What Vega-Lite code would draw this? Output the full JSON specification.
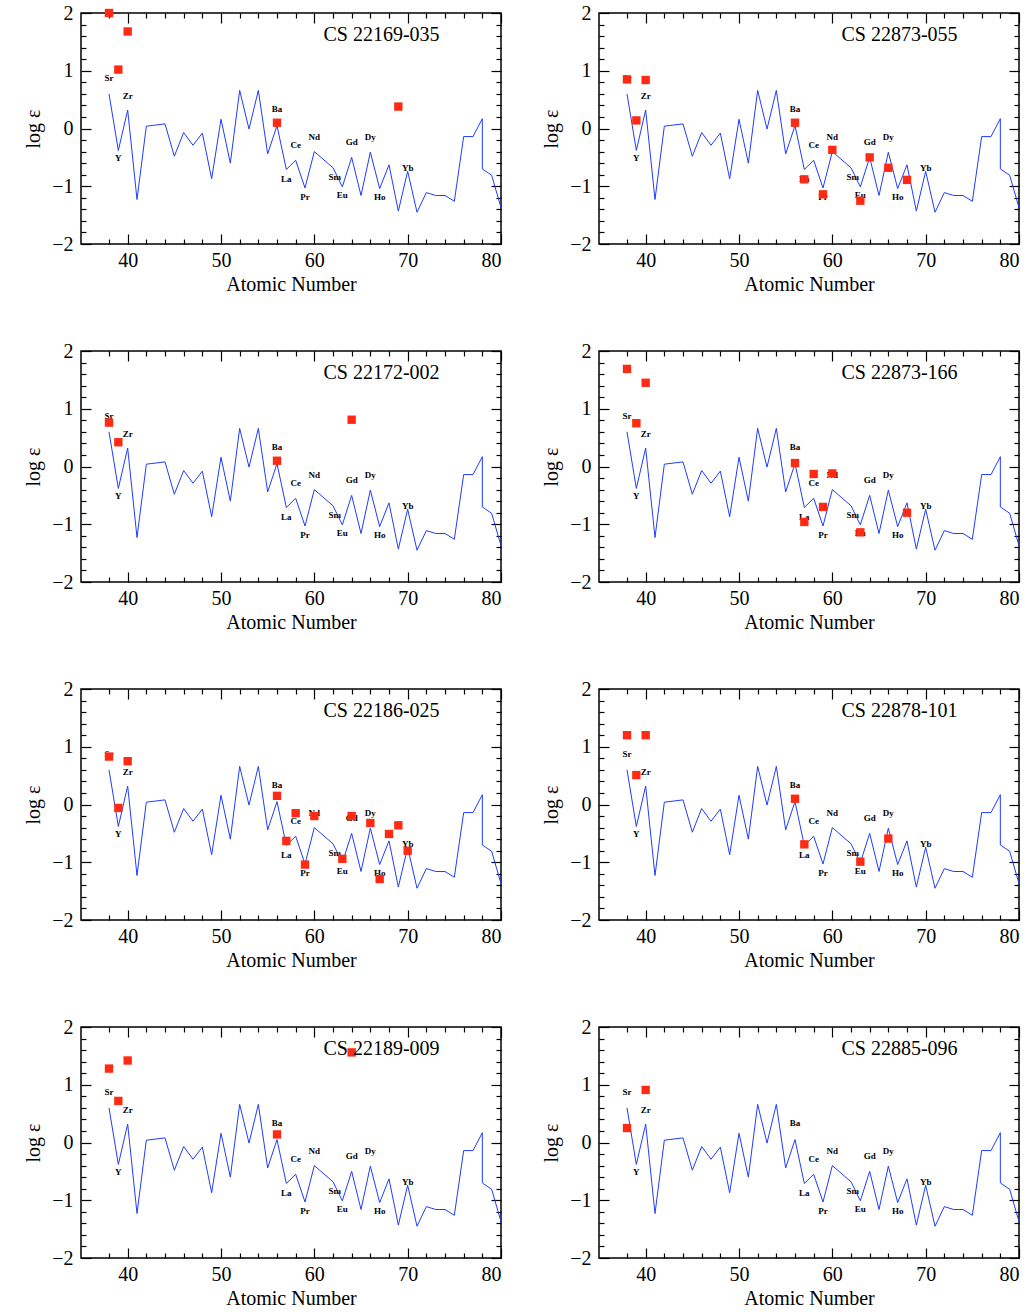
{
  "$schema": "https://vega.github.io/schema/vega-lite/v6.json",
  "padding": {"left": 22, "top": 2, "right": 4, "bottom": 0},
  "background": "white",
  "datasets": {
    "solar": [
      {"i":1,"z":38,"v":0.60},{"i":2,"z":39,"v":-0.38},{"i":3,"z":40,"v":0.32},{"i":4,"z":41,"v":-1.23},
      {"i":5,"z":42,"v":0.04},{"i":6,"z":44,"v":0.08},{"i":7,"z":45,"v":-0.48},{"i":8,"z":46,"v":-0.07},
      {"i":9,"z":47,"v":-0.29},{"i":10,"z":48,"v":-0.08},{"i":11,"z":49,"v":-0.87},{"i":12,"z":50,"v":0.16},
      {"i":13,"z":51,"v":-0.60},{"i":14,"z":52,"v":0.66},{"i":15,"z":53,"v":-0.01},{"i":16,"z":54,"v":0.66},
      {"i":17,"z":55,"v":-0.44},{"i":18,"z":56,"v":0.05},{"i":19,"z":57,"v":-0.71},{"i":20,"z":58,"v":-0.55},
      {"i":21,"z":59,"v":-1.03},{"i":22,"z":60,"v":-0.40},{"i":23,"z":62,"v":-0.68},{"i":24,"z":63,"v":-1.01},
      {"i":25,"z":64,"v":-0.50},{"i":26,"z":65,"v":-1.16},{"i":27,"z":66,"v":-0.41},{"i":28,"z":67,"v":-1.04},
      {"i":29,"z":68,"v":-0.63},{"i":30,"z":69,"v":-1.43},{"i":31,"z":70,"v":-0.74},{"i":32,"z":71,"v":-1.45},
      {"i":33,"z":72,"v":-1.11},{"i":34,"z":73,"v":-1.16},{"i":35,"z":74,"v":-1.16},{"i":36,"z":75,"v":-1.26},
      {"i":37,"z":76,"v":-0.14},{"i":38,"z":77,"v":-0.14},{"i":39,"z":78,"v":0.17},{"i":40,"z":78,"v":-0.70},
      {"i":41,"z":79,"v":-0.81},{"i":42,"z":80,"v":-1.37}
    ],
    "labels": [
      {"el":"Sr","z":38,"v":0.87},{"el":"Y","z":39,"v":-0.51},{"el":"Zr","z":40,"v":0.56},
      {"el":"Ba","z":56,"v":0.34},{"el":"La","z":57,"v":-0.87},{"el":"Ce","z":58,"v":-0.29},
      {"el":"Pr","z":59,"v":-1.19},{"el":"Nd","z":60,"v":-0.15},{"el":"Sm","z":62.2,"v":-0.84},
      {"el":"Eu","z":63,"v":-1.15},{"el":"Gd","z":64,"v":-0.23},{"el":"Dy","z":66,"v":-0.15},
      {"el":"Ho","z":67,"v":-1.19},{"el":"Yb","z":70,"v":-0.68}
    ],
    "stars": [
      {"star":"CS 22169-035","z":38,"v":2.0},{"star":"CS 22169-035","z":39,"v":1.02},{"star":"CS 22169-035","z":40,"v":1.68},
      {"star":"CS 22169-035","z":56,"v":0.1},{"star":"CS 22169-035","z":69,"v":0.38},
      {"star":"CS 22873-055","z":38,"v":0.85},{"star":"CS 22873-055","z":39,"v":0.14},{"star":"CS 22873-055","z":40,"v":0.84},
      {"star":"CS 22873-055","z":56,"v":0.1},{"star":"CS 22873-055","z":57,"v":-0.88},{"star":"CS 22873-055","z":59,"v":-1.14},
      {"star":"CS 22873-055","z":60,"v":-0.37},{"star":"CS 22873-055","z":63,"v":-1.25},{"star":"CS 22873-055","z":64,"v":-0.5},
      {"star":"CS 22873-055","z":66,"v":-0.68},{"star":"CS 22873-055","z":68,"v":-0.89},
      {"star":"CS 22172-002","z":38,"v":0.76},{"star":"CS 22172-002","z":39,"v":0.42},{"star":"CS 22172-002","z":56,"v":0.1},
      {"star":"CS 22172-002","z":64,"v":0.81},
      {"star":"CS 22873-166","z":38,"v":1.69},{"star":"CS 22873-166","z":39,"v":0.75},{"star":"CS 22873-166","z":40,"v":1.45},
      {"star":"CS 22873-166","z":56,"v":0.06},{"star":"CS 22873-166","z":57,"v":-0.96},{"star":"CS 22873-166","z":58,"v":-0.13},
      {"star":"CS 22873-166","z":59,"v":-0.7},{"star":"CS 22873-166","z":60,"v":-0.12},{"star":"CS 22873-166","z":63,"v":-1.14},
      {"star":"CS 22873-166","z":68,"v":-0.8},
      {"star":"CS 22186-025","z":38,"v":0.83},{"star":"CS 22186-025","z":39,"v":-0.06},{"star":"CS 22186-025","z":40,"v":0.75},
      {"star":"CS 22186-025","z":56,"v":0.15},{"star":"CS 22186-025","z":57,"v":-0.63},{"star":"CS 22186-025","z":58,"v":-0.15},
      {"star":"CS 22186-025","z":59,"v":-1.04},{"star":"CS 22186-025","z":60,"v":-0.2},{"star":"CS 22186-025","z":63,"v":-0.94},
      {"star":"CS 22186-025","z":64,"v":-0.2},{"star":"CS 22186-025","z":66,"v":-0.32},{"star":"CS 22186-025","z":67,"v":-1.29},
      {"star":"CS 22186-025","z":68,"v":-0.51},{"star":"CS 22186-025","z":69,"v":-0.36},{"star":"CS 22186-025","z":70,"v":-0.8},
      {"star":"CS 22878-101","z":38,"v":1.2},{"star":"CS 22878-101","z":39,"v":0.51},{"star":"CS 22878-101","z":40,"v":1.2},
      {"star":"CS 22878-101","z":56,"v":0.1},{"star":"CS 22878-101","z":57,"v":-0.69},{"star":"CS 22878-101","z":63,"v":-0.99},
      {"star":"CS 22878-101","z":66,"v":-0.59},
      {"star":"CS 22189-009","z":38,"v":1.28},{"star":"CS 22189-009","z":39,"v":0.72},{"star":"CS 22189-009","z":40,"v":1.42},
      {"star":"CS 22189-009","z":56,"v":0.14},{"star":"CS 22189-009","z":64,"v":1.56},
      {"star":"CS 22885-096","z":38,"v":0.25},{"star":"CS 22885-096","z":40,"v":0.91}
    ]
  },
  "columns": 2,
  "spacing": {"row": 45, "column": 36},
  "concat": [
    {"width":420,"height":231,"resolve":{"axis":{"x":"independent","y":"independent"}},"layer":[
      {"data":{"name":"solar"},"mark":{"type":"line","color":"#1f3cff","strokeWidth":1},"encoding":{
        "x":{"field":"z","type":"quantitative","scale":{"domain":[37,80]},"axis":{"orient":"bottom","title":"Atomic Number","values":[40,50,60,70,80],"offset":-10,"tickSize":10}},
        "y":{"field":"v","type":"quantitative","scale":{"domain":[-2,2]},"axis":{"orient":"left","title":"log ε","values":[-2,-1,0,1,2],"offset":-10,"tickSize":10}},
        "order":{"field":"i"}}},
      {"data":{"name":"labels"},"mark":{"type":"text","fontSize":9,"fontWeight":"bold","font":"Liberation Serif"},"encoding":{
        "x":{"field":"z","type":"quantitative","axis":{"orient":"top","title":null,"labels":false,"values":[40,50,60,70,80],"offset":-10,"tickSize":10}},
        "y":{"field":"v","type":"quantitative","axis":{"orient":"right","title":null,"labels":false,"values":[-2,-1,0,1,2],"offset":-10,"tickSize":10}},
        "text":{"field":"el"}}},
      {"data":{"name":"stars"},"transform":[{"filter":"datum.star == 'CS 22169-035'"}],"mark":{"type":"square","color":"#ff2a14","opacity":1,"size":70},"encoding":{
        "x":{"field":"z","type":"quantitative","axis":{"orient":"bottom","title":null,"labels":false,"offset":-5,"tickSize":5,"values":[38,42,44,46,48,52,54,56,58,62,64,66,68,72,74,76,78]}},
        "y":{"field":"v","type":"quantitative","axis":{"orient":"left","title":null,"labels":false,"offset":-5,"tickSize":5,"values":[-1.8,-1.6,-1.4,-1.2,-0.8,-0.6,-0.4,-0.2,0.2,0.4,0.6,0.8,1.2,1.4,1.6,1.8]}}}},
      {"data":{"values":[{"star":"CS 22169-035"}]},"mark":{"type":"text","fontSize":20,"font":"Liberation Serif"},"encoding":{
        "x":{"datum":67.2,"type":"quantitative","axis":{"orient":"top","title":null,"labels":false,"offset":-5,"tickSize":5,"values":[38,42,44,46,48,52,54,56,58,62,64,66,68,72,74,76,78]}},
        "y":{"datum":1.62,"type":"quantitative","axis":{"orient":"right","title":null,"labels":false,"offset":-5,"tickSize":5,"values":[-1.8,-1.6,-1.4,-1.2,-0.8,-0.6,-0.4,-0.2,0.2,0.4,0.6,0.8,1.2,1.4,1.6,1.8]}},"text":{"field":"star"}}}
    ]},
    {"width":420,"height":231,"resolve":{"axis":{"x":"independent","y":"independent"}},"layer":[
      {"data":{"name":"solar"},"mark":{"type":"line","color":"#1f3cff","strokeWidth":1},"encoding":{
        "x":{"field":"z","type":"quantitative","scale":{"domain":[37,80]},"axis":{"orient":"bottom","title":"Atomic Number","values":[40,50,60,70,80],"offset":-10,"tickSize":10}},
        "y":{"field":"v","type":"quantitative","scale":{"domain":[-2,2]},"axis":{"orient":"left","title":"log ε","values":[-2,-1,0,1,2],"offset":-10,"tickSize":10}},
        "order":{"field":"i"}}},
      {"data":{"name":"labels"},"mark":{"type":"text","fontSize":9,"fontWeight":"bold","font":"Liberation Serif"},"encoding":{
        "x":{"field":"z","type":"quantitative","axis":{"orient":"top","title":null,"labels":false,"values":[40,50,60,70,80],"offset":-10,"tickSize":10}},
        "y":{"field":"v","type":"quantitative","axis":{"orient":"right","title":null,"labels":false,"values":[-2,-1,0,1,2],"offset":-10,"tickSize":10}},
        "text":{"field":"el"}}},
      {"data":{"name":"stars"},"transform":[{"filter":"datum.star == 'CS 22873-055'"}],"mark":{"type":"square","color":"#ff2a14","opacity":1,"size":70},"encoding":{
        "x":{"field":"z","type":"quantitative","axis":{"orient":"bottom","title":null,"labels":false,"offset":-5,"tickSize":5,"values":[38,42,44,46,48,52,54,56,58,62,64,66,68,72,74,76,78]}},
        "y":{"field":"v","type":"quantitative","axis":{"orient":"left","title":null,"labels":false,"offset":-5,"tickSize":5,"values":[-1.8,-1.6,-1.4,-1.2,-0.8,-0.6,-0.4,-0.2,0.2,0.4,0.6,0.8,1.2,1.4,1.6,1.8]}}}},
      {"data":{"values":[{"star":"CS 22873-055"}]},"mark":{"type":"text","fontSize":20,"font":"Liberation Serif"},"encoding":{
        "x":{"datum":67.2,"type":"quantitative","axis":{"orient":"top","title":null,"labels":false,"offset":-5,"tickSize":5,"values":[38,42,44,46,48,52,54,56,58,62,64,66,68,72,74,76,78]}},
        "y":{"datum":1.62,"type":"quantitative","axis":{"orient":"right","title":null,"labels":false,"offset":-5,"tickSize":5,"values":[-1.8,-1.6,-1.4,-1.2,-0.8,-0.6,-0.4,-0.2,0.2,0.4,0.6,0.8,1.2,1.4,1.6,1.8]}},"text":{"field":"star"}}}
    ]},
    {"width":420,"height":231,"resolve":{"axis":{"x":"independent","y":"independent"}},"layer":[
      {"data":{"name":"solar"},"mark":{"type":"line","color":"#1f3cff","strokeWidth":1},"encoding":{
        "x":{"field":"z","type":"quantitative","scale":{"domain":[37,80]},"axis":{"orient":"bottom","title":"Atomic Number","values":[40,50,60,70,80],"offset":-10,"tickSize":10}},
        "y":{"field":"v","type":"quantitative","scale":{"domain":[-2,2]},"axis":{"orient":"left","title":"log ε","values":[-2,-1,0,1,2],"offset":-10,"tickSize":10}},
        "order":{"field":"i"}}},
      {"data":{"name":"labels"},"mark":{"type":"text","fontSize":9,"fontWeight":"bold","font":"Liberation Serif"},"encoding":{
        "x":{"field":"z","type":"quantitative","axis":{"orient":"top","title":null,"labels":false,"values":[40,50,60,70,80],"offset":-10,"tickSize":10}},
        "y":{"field":"v","type":"quantitative","axis":{"orient":"right","title":null,"labels":false,"values":[-2,-1,0,1,2],"offset":-10,"tickSize":10}},
        "text":{"field":"el"}}},
      {"data":{"name":"stars"},"transform":[{"filter":"datum.star == 'CS 22172-002'"}],"mark":{"type":"square","color":"#ff2a14","opacity":1,"size":70},"encoding":{
        "x":{"field":"z","type":"quantitative","axis":{"orient":"bottom","title":null,"labels":false,"offset":-5,"tickSize":5,"values":[38,42,44,46,48,52,54,56,58,62,64,66,68,72,74,76,78]}},
        "y":{"field":"v","type":"quantitative","axis":{"orient":"left","title":null,"labels":false,"offset":-5,"tickSize":5,"values":[-1.8,-1.6,-1.4,-1.2,-0.8,-0.6,-0.4,-0.2,0.2,0.4,0.6,0.8,1.2,1.4,1.6,1.8]}}}},
      {"data":{"values":[{"star":"CS 22172-002"}]},"mark":{"type":"text","fontSize":20,"font":"Liberation Serif"},"encoding":{
        "x":{"datum":67.2,"type":"quantitative","axis":{"orient":"top","title":null,"labels":false,"offset":-5,"tickSize":5,"values":[38,42,44,46,48,52,54,56,58,62,64,66,68,72,74,76,78]}},
        "y":{"datum":1.62,"type":"quantitative","axis":{"orient":"right","title":null,"labels":false,"offset":-5,"tickSize":5,"values":[-1.8,-1.6,-1.4,-1.2,-0.8,-0.6,-0.4,-0.2,0.2,0.4,0.6,0.8,1.2,1.4,1.6,1.8]}},"text":{"field":"star"}}}
    ]},
    {"width":420,"height":231,"resolve":{"axis":{"x":"independent","y":"independent"}},"layer":[
      {"data":{"name":"solar"},"mark":{"type":"line","color":"#1f3cff","strokeWidth":1},"encoding":{
        "x":{"field":"z","type":"quantitative","scale":{"domain":[37,80]},"axis":{"orient":"bottom","title":"Atomic Number","values":[40,50,60,70,80],"offset":-10,"tickSize":10}},
        "y":{"field":"v","type":"quantitative","scale":{"domain":[-2,2]},"axis":{"orient":"left","title":"log ε","values":[-2,-1,0,1,2],"offset":-10,"tickSize":10}},
        "order":{"field":"i"}}},
      {"data":{"name":"labels"},"mark":{"type":"text","fontSize":9,"fontWeight":"bold","font":"Liberation Serif"},"encoding":{
        "x":{"field":"z","type":"quantitative","axis":{"orient":"top","title":null,"labels":false,"values":[40,50,60,70,80],"offset":-10,"tickSize":10}},
        "y":{"field":"v","type":"quantitative","axis":{"orient":"right","title":null,"labels":false,"values":[-2,-1,0,1,2],"offset":-10,"tickSize":10}},
        "text":{"field":"el"}}},
      {"data":{"name":"stars"},"transform":[{"filter":"datum.star == 'CS 22873-166'"}],"mark":{"type":"square","color":"#ff2a14","opacity":1,"size":70},"encoding":{
        "x":{"field":"z","type":"quantitative","axis":{"orient":"bottom","title":null,"labels":false,"offset":-5,"tickSize":5,"values":[38,42,44,46,48,52,54,56,58,62,64,66,68,72,74,76,78]}},
        "y":{"field":"v","type":"quantitative","axis":{"orient":"left","title":null,"labels":false,"offset":-5,"tickSize":5,"values":[-1.8,-1.6,-1.4,-1.2,-0.8,-0.6,-0.4,-0.2,0.2,0.4,0.6,0.8,1.2,1.4,1.6,1.8]}}}},
      {"data":{"values":[{"star":"CS 22873-166"}]},"mark":{"type":"text","fontSize":20,"font":"Liberation Serif"},"encoding":{
        "x":{"datum":67.2,"type":"quantitative","axis":{"orient":"top","title":null,"labels":false,"offset":-5,"tickSize":5,"values":[38,42,44,46,48,52,54,56,58,62,64,66,68,72,74,76,78]}},
        "y":{"datum":1.62,"type":"quantitative","axis":{"orient":"right","title":null,"labels":false,"offset":-5,"tickSize":5,"values":[-1.8,-1.6,-1.4,-1.2,-0.8,-0.6,-0.4,-0.2,0.2,0.4,0.6,0.8,1.2,1.4,1.6,1.8]}},"text":{"field":"star"}}}
    ]},
    {"width":420,"height":231,"resolve":{"axis":{"x":"independent","y":"independent"}},"layer":[
      {"data":{"name":"solar"},"mark":{"type":"line","color":"#1f3cff","strokeWidth":1},"encoding":{
        "x":{"field":"z","type":"quantitative","scale":{"domain":[37,80]},"axis":{"orient":"bottom","title":"Atomic Number","values":[40,50,60,70,80],"offset":-10,"tickSize":10}},
        "y":{"field":"v","type":"quantitative","scale":{"domain":[-2,2]},"axis":{"orient":"left","title":"log ε","values":[-2,-1,0,1,2],"offset":-10,"tickSize":10}},
        "order":{"field":"i"}}},
      {"data":{"name":"labels"},"mark":{"type":"text","fontSize":9,"fontWeight":"bold","font":"Liberation Serif"},"encoding":{
        "x":{"field":"z","type":"quantitative","axis":{"orient":"top","title":null,"labels":false,"values":[40,50,60,70,80],"offset":-10,"tickSize":10}},
        "y":{"field":"v","type":"quantitative","axis":{"orient":"right","title":null,"labels":false,"values":[-2,-1,0,1,2],"offset":-10,"tickSize":10}},
        "text":{"field":"el"}}},
      {"data":{"name":"stars"},"transform":[{"filter":"datum.star == 'CS 22186-025'"}],"mark":{"type":"square","color":"#ff2a14","opacity":1,"size":70},"encoding":{
        "x":{"field":"z","type":"quantitative","axis":{"orient":"bottom","title":null,"labels":false,"offset":-5,"tickSize":5,"values":[38,42,44,46,48,52,54,56,58,62,64,66,68,72,74,76,78]}},
        "y":{"field":"v","type":"quantitative","axis":{"orient":"left","title":null,"labels":false,"offset":-5,"tickSize":5,"values":[-1.8,-1.6,-1.4,-1.2,-0.8,-0.6,-0.4,-0.2,0.2,0.4,0.6,0.8,1.2,1.4,1.6,1.8]}}}},
      {"data":{"values":[{"star":"CS 22186-025"}]},"mark":{"type":"text","fontSize":20,"font":"Liberation Serif"},"encoding":{
        "x":{"datum":67.2,"type":"quantitative","axis":{"orient":"top","title":null,"labels":false,"offset":-5,"tickSize":5,"values":[38,42,44,46,48,52,54,56,58,62,64,66,68,72,74,76,78]}},
        "y":{"datum":1.62,"type":"quantitative","axis":{"orient":"right","title":null,"labels":false,"offset":-5,"tickSize":5,"values":[-1.8,-1.6,-1.4,-1.2,-0.8,-0.6,-0.4,-0.2,0.2,0.4,0.6,0.8,1.2,1.4,1.6,1.8]}},"text":{"field":"star"}}}
    ]},
    {"width":420,"height":231,"resolve":{"axis":{"x":"independent","y":"independent"}},"layer":[
      {"data":{"name":"solar"},"mark":{"type":"line","color":"#1f3cff","strokeWidth":1},"encoding":{
        "x":{"field":"z","type":"quantitative","scale":{"domain":[37,80]},"axis":{"orient":"bottom","title":"Atomic Number","values":[40,50,60,70,80],"offset":-10,"tickSize":10}},
        "y":{"field":"v","type":"quantitative","scale":{"domain":[-2,2]},"axis":{"orient":"left","title":"log ε","values":[-2,-1,0,1,2],"offset":-10,"tickSize":10}},
        "order":{"field":"i"}}},
      {"data":{"name":"labels"},"mark":{"type":"text","fontSize":9,"fontWeight":"bold","font":"Liberation Serif"},"encoding":{
        "x":{"field":"z","type":"quantitative","axis":{"orient":"top","title":null,"labels":false,"values":[40,50,60,70,80],"offset":-10,"tickSize":10}},
        "y":{"field":"v","type":"quantitative","axis":{"orient":"right","title":null,"labels":false,"values":[-2,-1,0,1,2],"offset":-10,"tickSize":10}},
        "text":{"field":"el"}}},
      {"data":{"name":"stars"},"transform":[{"filter":"datum.star == 'CS 22878-101'"}],"mark":{"type":"square","color":"#ff2a14","opacity":1,"size":70},"encoding":{
        "x":{"field":"z","type":"quantitative","axis":{"orient":"bottom","title":null,"labels":false,"offset":-5,"tickSize":5,"values":[38,42,44,46,48,52,54,56,58,62,64,66,68,72,74,76,78]}},
        "y":{"field":"v","type":"quantitative","axis":{"orient":"left","title":null,"labels":false,"offset":-5,"tickSize":5,"values":[-1.8,-1.6,-1.4,-1.2,-0.8,-0.6,-0.4,-0.2,0.2,0.4,0.6,0.8,1.2,1.4,1.6,1.8]}}}},
      {"data":{"values":[{"star":"CS 22878-101"}]},"mark":{"type":"text","fontSize":20,"font":"Liberation Serif"},"encoding":{
        "x":{"datum":67.2,"type":"quantitative","axis":{"orient":"top","title":null,"labels":false,"offset":-5,"tickSize":5,"values":[38,42,44,46,48,52,54,56,58,62,64,66,68,72,74,76,78]}},
        "y":{"datum":1.62,"type":"quantitative","axis":{"orient":"right","title":null,"labels":false,"offset":-5,"tickSize":5,"values":[-1.8,-1.6,-1.4,-1.2,-0.8,-0.6,-0.4,-0.2,0.2,0.4,0.6,0.8,1.2,1.4,1.6,1.8]}},"text":{"field":"star"}}}
    ]},
    {"width":420,"height":231,"resolve":{"axis":{"x":"independent","y":"independent"}},"layer":[
      {"data":{"name":"solar"},"mark":{"type":"line","color":"#1f3cff","strokeWidth":1},"encoding":{
        "x":{"field":"z","type":"quantitative","scale":{"domain":[37,80]},"axis":{"orient":"bottom","title":"Atomic Number","values":[40,50,60,70,80],"offset":-10,"tickSize":10}},
        "y":{"field":"v","type":"quantitative","scale":{"domain":[-2,2]},"axis":{"orient":"left","title":"log ε","values":[-2,-1,0,1,2],"offset":-10,"tickSize":10}},
        "order":{"field":"i"}}},
      {"data":{"name":"labels"},"mark":{"type":"text","fontSize":9,"fontWeight":"bold","font":"Liberation Serif"},"encoding":{
        "x":{"field":"z","type":"quantitative","axis":{"orient":"top","title":null,"labels":false,"values":[40,50,60,70,80],"offset":-10,"tickSize":10}},
        "y":{"field":"v","type":"quantitative","axis":{"orient":"right","title":null,"labels":false,"values":[-2,-1,0,1,2],"offset":-10,"tickSize":10}},
        "text":{"field":"el"}}},
      {"data":{"name":"stars"},"transform":[{"filter":"datum.star == 'CS 22189-009'"}],"mark":{"type":"square","color":"#ff2a14","opacity":1,"size":70},"encoding":{
        "x":{"field":"z","type":"quantitative","axis":{"orient":"bottom","title":null,"labels":false,"offset":-5,"tickSize":5,"values":[38,42,44,46,48,52,54,56,58,62,64,66,68,72,74,76,78]}},
        "y":{"field":"v","type":"quantitative","axis":{"orient":"left","title":null,"labels":false,"offset":-5,"tickSize":5,"values":[-1.8,-1.6,-1.4,-1.2,-0.8,-0.6,-0.4,-0.2,0.2,0.4,0.6,0.8,1.2,1.4,1.6,1.8]}}}},
      {"data":{"values":[{"star":"CS 22189-009"}]},"mark":{"type":"text","fontSize":20,"font":"Liberation Serif"},"encoding":{
        "x":{"datum":67.2,"type":"quantitative","axis":{"orient":"top","title":null,"labels":false,"offset":-5,"tickSize":5,"values":[38,42,44,46,48,52,54,56,58,62,64,66,68,72,74,76,78]}},
        "y":{"datum":1.62,"type":"quantitative","axis":{"orient":"right","title":null,"labels":false,"offset":-5,"tickSize":5,"values":[-1.8,-1.6,-1.4,-1.2,-0.8,-0.6,-0.4,-0.2,0.2,0.4,0.6,0.8,1.2,1.4,1.6,1.8]}},"text":{"field":"star"}}}
    ]},
    {"width":420,"height":231,"resolve":{"axis":{"x":"independent","y":"independent"}},"layer":[
      {"data":{"name":"solar"},"mark":{"type":"line","color":"#1f3cff","strokeWidth":1},"encoding":{
        "x":{"field":"z","type":"quantitative","scale":{"domain":[37,80]},"axis":{"orient":"bottom","title":"Atomic Number","values":[40,50,60,70,80],"offset":-10,"tickSize":10}},
        "y":{"field":"v","type":"quantitative","scale":{"domain":[-2,2]},"axis":{"orient":"left","title":"log ε","values":[-2,-1,0,1,2],"offset":-10,"tickSize":10}},
        "order":{"field":"i"}}},
      {"data":{"name":"labels"},"mark":{"type":"text","fontSize":9,"fontWeight":"bold","font":"Liberation Serif"},"encoding":{
        "x":{"field":"z","type":"quantitative","axis":{"orient":"top","title":null,"labels":false,"values":[40,50,60,70,80],"offset":-10,"tickSize":10}},
        "y":{"field":"v","type":"quantitative","axis":{"orient":"right","title":null,"labels":false,"values":[-2,-1,0,1,2],"offset":-10,"tickSize":10}},
        "text":{"field":"el"}}},
      {"data":{"name":"stars"},"transform":[{"filter":"datum.star == 'CS 22885-096'"}],"mark":{"type":"square","color":"#ff2a14","opacity":1,"size":70},"encoding":{
        "x":{"field":"z","type":"quantitative","axis":{"orient":"bottom","title":null,"labels":false,"offset":-5,"tickSize":5,"values":[38,42,44,46,48,52,54,56,58,62,64,66,68,72,74,76,78]}},
        "y":{"field":"v","type":"quantitative","axis":{"orient":"left","title":null,"labels":false,"offset":-5,"tickSize":5,"values":[-1.8,-1.6,-1.4,-1.2,-0.8,-0.6,-0.4,-0.2,0.2,0.4,0.6,0.8,1.2,1.4,1.6,1.8]}}}},
      {"data":{"values":[{"star":"CS 22885-096"}]},"mark":{"type":"text","fontSize":20,"font":"Liberation Serif"},"encoding":{
        "x":{"datum":67.2,"type":"quantitative","axis":{"orient":"top","title":null,"labels":false,"offset":-5,"tickSize":5,"values":[38,42,44,46,48,52,54,56,58,62,64,66,68,72,74,76,78]}},
        "y":{"datum":1.62,"type":"quantitative","axis":{"orient":"right","title":null,"labels":false,"offset":-5,"tickSize":5,"values":[-1.8,-1.6,-1.4,-1.2,-0.8,-0.6,-0.4,-0.2,0.2,0.4,0.6,0.8,1.2,1.4,1.6,1.8]}},"text":{"field":"star"}}}
    ]}
  ],
  "config": {
    "view": {"stroke": "black", "strokeWidth": 1.5},
    "axis": {"grid": false, "domain": false, "ticks": true, "tickColor": "black", "tickWidth": 1.2, "tickOpacity": 1,
      "format": "d", "labelFont": "Liberation Serif", "labelFontSize": 20, "labelColor": "black", "labelPadding": 6,
      "titleFont": "Liberation Serif", "titleFontSize": 20, "titleFontWeight": "normal", "titleColor": "black"},
    "axisBottom": {"labelPadding": 6, "titlePadding": 4},
    "axisLeft": {"labelPadding": 8, "titlePadding": 8}
  }
}
